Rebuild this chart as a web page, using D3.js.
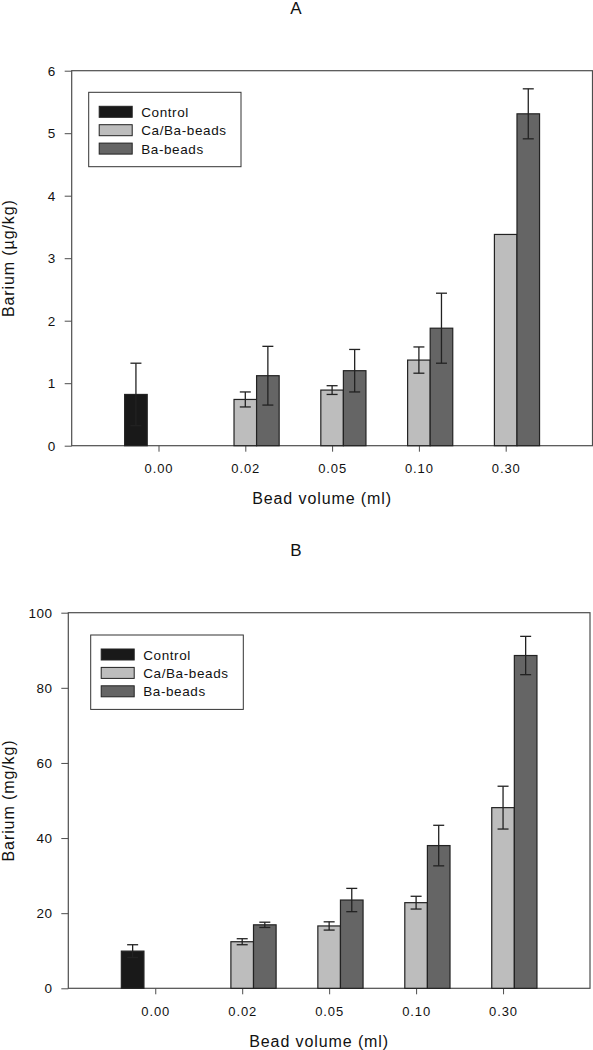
<!DOCTYPE html>
<html>
<head>
<meta charset="utf-8">
<script src="https://cdn.jsdelivr.net/npm/d3@7"></script>
<style>
  html, body { margin: 0; padding: 0; background: #fff; }
  svg { display: block; font-family: "Liberation Sans", Arial, sans-serif; }
</style>
</head>
<body>
<svg id="chart" width="593" height="1050"></svg>
<script>
// ---------- data ----------
const categories = ["0.00", "0.02", "0.05", "0.10", "0.30"];
const seriesNames = ["Control", "Ca/Ba-beads", "Ba-beads"];

// Panel A: Barium (µg/kg)
const controlA = [0.82, null, null, null, null];
const controlA_sd = [0.50, null, null, null, null];
const caBaA = [null, 0.74, 0.89, 1.37, 3.38];
const caBaA_sd = [null, 0.12, 0.07, 0.21, 0];
const baA = [null, 1.12, 1.20, 1.88, 5.31];
const baA_sd = [null, 0.47, 0.34, 0.56, 0.40];
const yTicksA = [0, 1, 2, 3, 4, 5, 6];

// Panel B: Barium (mg/kg)
const controlB = [9.9, null, null, null, null];
const controlB_sd = [1.7, null, null, null, null];
const caBaB = [null, 12.4, 16.6, 22.8, 48.1];
const caBaB_sd = [null, 0.8, 1.1, 1.7, 5.7];
const baB = [null, 16.9, 23.5, 38.0, 88.6];
const baB_sd = [null, 0.7, 3.1, 5.4, 5.1];
const yTicksB = [0, 20, 40, 60, 80, 100];

const colors = ["#191919", "#bdbdbd", "#656565"];

// ---------- drawing ----------
const svg = d3.select("#chart");

function panel(cfg) {
  const g = svg.append("g");
  const x = d3.scaleLinear().domain([0, categories.length + 1]).range([cfg.left, cfg.right]);
  const y = d3.scaleLinear().domain(cfg.yDomain).range([cfg.bottom, cfg.top]);
  const unit = x(1) - x(0);
  const bw = unit * 0.26;

  // title
  g.append("text").attr("x", 296).attr("y", cfg.titleY)
    .attr("text-anchor", "middle").attr("font-size", 17).attr("fill", "#111")
    .text(cfg.title);

  // frame
  g.append("rect").attr("x", cfg.left).attr("y", cfg.top)
    .attr("width", cfg.right - cfg.left).attr("height", cfg.bottom - cfg.top)
    .attr("fill", "none").attr("stroke", "#4d4d4d").attr("stroke-width", 1.2);

  // y axis
  const ya = g.append("g").attr("transform", `translate(${cfg.left},0)`)
    .call(d3.axisLeft(y).tickValues(cfg.yTicks).tickFormat(d3.format("d"))
      .tickSize(7).tickPadding(9).tickSizeOuter(0));
  ya.select(".domain").remove();
  ya.selectAll(".tick line").attr("stroke", "#4d4d4d");
  ya.selectAll(".tick text").attr("font-size", 13.5).attr("fill", "#111")
    .attr("font-family", "Liberation Sans, Arial, sans-serif").style("letter-spacing", "0.4px");

  // x axis
  const xa = g.append("g").attr("transform", `translate(0,${cfg.bottom})`)
    .call(d3.axisBottom(x).tickValues(categories.map((c, i) => i + 1))
      .tickFormat((d) => categories[d - 1]).tickSize(6).tickPadding(12).tickSizeOuter(0));
  xa.select(".domain").remove();
  xa.selectAll(".tick line").attr("stroke", "#4d4d4d");
  xa.selectAll(".tick text").attr("font-size", 13).attr("fill", "#111")
    .attr("font-family", "Liberation Sans, Arial, sans-serif").style("letter-spacing", "0.9px");

  // axis titles
  g.append("text").attr("x", (cfg.left + cfg.right) / 2 - 10).attr("y", cfg.xTitleY)
    .attr("text-anchor", "middle").attr("font-size", 16).attr("fill", "#111")
    .style("letter-spacing", "0.9px").text("Bead volume (ml)");
  g.append("text")
    .attr("transform", `translate(14,${(cfg.top + cfg.bottom) / 2}) rotate(-90)`)
    .attr("text-anchor", "middle").attr("font-size", 16).attr("fill", "#111")
    .style("letter-spacing", "0.9px").text(cfg.yTitle);

  // bars + error bars
  cfg.series.forEach((s, si) => {
    const recs = s.values.map((v, i) => ({ v, sd: s.sd[i], i })).filter((d) => d.v != null);
    const cx = (d) => x(d.i + 1) + (si - 1) * bw;
    g.append("g").selectAll("rect").data(recs).join("rect")
      .attr("x", (d) => cx(d) - bw / 2)
      .attr("y", (d) => y(d.v))
      .attr("width", bw)
      .attr("height", (d) => y(0) - y(d.v))
      .attr("fill", colors[si]).attr("stroke", "#222").attr("stroke-width", 1.2);
  });
  cfg.series.forEach((s, si) => {
    const recs = s.values.map((v, i) => ({ v, sd: s.sd[i], i })).filter((d) => d.v != null && d.sd > 0);
    const cx = (d) => x(d.i + 1) + (si - 1) * bw;
    const eg = g.append("g").attr("stroke", "#222").attr("stroke-width", 1.3);
    eg.selectAll("line.v").data(recs).join("line").attr("class", "v")
      .attr("x1", cx).attr("x2", cx)
      .attr("y1", (d) => y(d.v - d.sd)).attr("y2", (d) => y(d.v + d.sd));
    eg.selectAll("line.t").data(recs).join("line").attr("class", "t")
      .attr("x1", (d) => cx(d) - 5.5).attr("x2", (d) => cx(d) + 5.5)
      .attr("y1", (d) => y(d.v + d.sd)).attr("y2", (d) => y(d.v + d.sd));
    eg.selectAll("line.b").data(recs).join("line").attr("class", "b")
      .attr("x1", (d) => cx(d) - 5.5).attr("x2", (d) => cx(d) + 5.5)
      .attr("y1", (d) => y(d.v - d.sd)).attr("y2", (d) => y(d.v - d.sd));
  });

  // legend
  const lg = g.append("g").attr("transform", `translate(${cfg.legend.x},${cfg.legend.y})`);
  lg.append("rect").attr("width", cfg.legend.w).attr("height", cfg.legend.h)
    .attr("fill", "#fff").attr("stroke", "#333").attr("stroke-width", 1);
  seriesNames.forEach((name, i) => {
    const cy = 19.5 + i * 18.4;
    lg.append("rect").attr("x", 10.5).attr("y", cy - 5.5).attr("width", 33).attr("height", 11)
      .attr("fill", colors[i]).attr("stroke", "#222").attr("stroke-width", 1);
    lg.append("text").attr("x", 52.5).attr("y", cy + 5)
      .attr("font-size", 13.5).attr("fill", "#111").style("letter-spacing", "0.6px").text(name);
  });
}

panel({
  title: "A", titleY: 14,
  left: 71.7, right: 592.5, top: 70.7, bottom: 445.7,
  yDomain: [0, 6], yTicks: yTicksA, yTitle: "Barium (µg/kg)",
  xTitleY: 504,
  legend: { x: 88.7, y: 92.3, w: 152.3, h: 74.4 },
  series: [
    { values: controlA, sd: controlA_sd },
    { values: caBaA, sd: caBaA_sd },
    { values: baA, sd: baA_sd }
  ]
});

panel({
  title: "B", titleY: 556,
  left: 68.3, right: 590, top: 612.7, bottom: 988.3,
  yDomain: [0, 100], yTicks: yTicksB, yTitle: "Barium (mg/kg)",
  xTitleY: 1046.5,
  legend: { x: 90.7, y: 635, w: 152.6, h: 74.4 },
  series: [
    { values: controlB, sd: controlB_sd },
    { values: caBaB, sd: caBaB_sd },
    { values: baB, sd: baB_sd }
  ]
});
</script>
</body>
</html>
